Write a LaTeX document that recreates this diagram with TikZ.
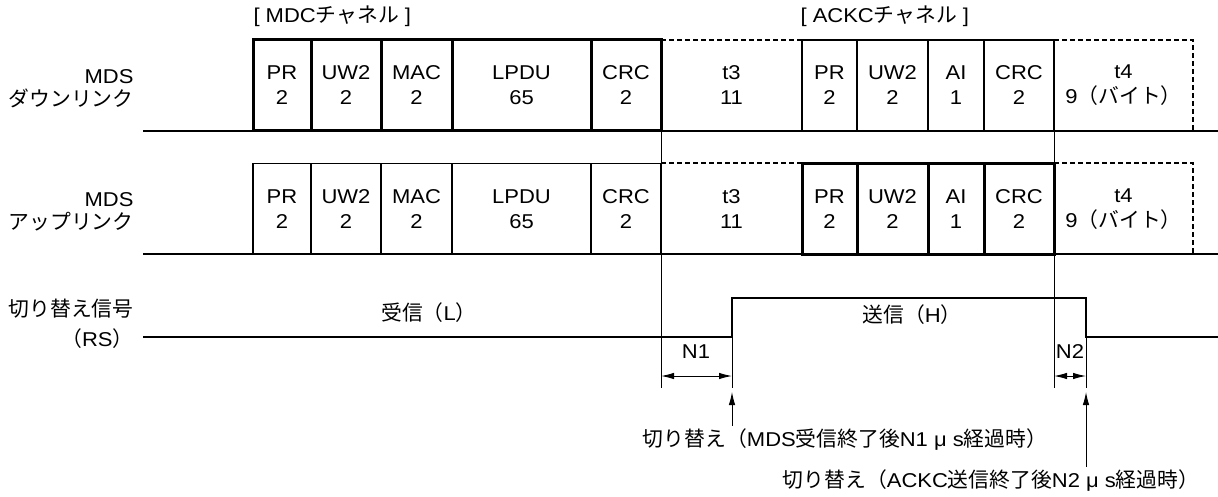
\documentclass[tikz,border=0pt]{standalone}
\usepackage{fontspec}
\setmainfont{Liberation Sans}[FakeStretch=1.1]
\newfontfamily\jp[Scale=1.04]{Noto Sans CJK JP}
\usetikzlibrary{arrows.meta}

\begin{document}
\begin{tikzpicture}[x=1pt, y=-1pt, font=\fontsize{20}{25}\selectfont,
      >={Latex[length=13pt,width=6.5pt]},
      field/.style={draw, line width=1.3pt, minimum height=91pt, inner sep=0pt, outer sep=0pt, align=center},
      heavy/.style={field, line width=3pt},
      slot/.style={minimum height=91pt, inner sep=0pt, outer sep=0pt, align=center},
      slotline/.style={line width=2pt, dash pattern=on 5pt off 3pt},
      tag/.style={anchor=east, align=right, font=\fontsize{20}{23}\selectfont},
      base/.style={line width=1.5pt},
      wave/.style={line width=1.7pt},
      guide/.style={line width=0.9pt},
      dim/.style={<->, line width=1pt}]
    \useasboundingbox (0,0) rectangle (1218,497);
    % channel headings
    \node[anchor=west] (mdc) at (250,16) {[ MDC{\jp チャネル} ]};
    \node[anchor=west] (ackc) at (797,16) {[ ACKC{\jp チャネル} ]};
    % row labels
    \node[tag] (down) at (137,89) {MDS\\{\jp ダウンリンク}};
    \node[tag] (up) at (137,212) {MDS\\{\jp アップリンク}};
    \node[tag] (rs) at (137,324) {{\jp 切り替え信号}\\[7pt]{\jp （}RS{\jp ）}};
    % base lines
    \coordinate (dlA) at (143,131); \coordinate (dlB) at (1218,131);
    \coordinate (ulA) at (143,254); \coordinate (ulB) at (1218,254);
    \draw[base] (dlA) -- (dlB);
    \draw[base] (ulA) -- (ulB);
    % downlink frame
    \node[field, minimum width=55pt] (ackprD) at (829.5,85.5) {PR\\2};
    \node[field, minimum width=71pt] (ackuwD) at (892.5,85.5) {UW2\\2};
    \node[field, minimum width=56pt] (aiD) at (956,85.5) {AI\\1};
    \node[field, minimum width=70pt] (ackcrcD) at (1019,85.5) {CRC\\2};
    \node[heavy, minimum width=58pt] (prD) at (282,85.5) {PR\\2};
    \node[heavy, minimum width=70pt] (uwD) at (346,85.5) {UW2\\2};
    \node[heavy, minimum width=71pt] (macD) at (416.5,85.5) {MAC\\2};
    \node[heavy, minimum width=139pt] (lpduD) at (521.5,85.5) {LPDU\\65};
    \node[heavy, minimum width=70pt] (crcD) at (626,85.5) {CRC\\2};
    \node[slot, minimum width=141pt] (t3D) at (731.5,85.5) {t3\\11};
    \node[slot, minimum width=139pt] (t4D) at (1123.5,85.5) {t4\\9{\jp （バイト）}};
    \draw[slotline] (t3D.north west) -- (t3D.north east);
    \draw[slotline] (t4D.north west) -- (t4D.north east) -- (t4D.south east);
    % uplink frame
    \node[field, minimum width=58pt] (prU) at (282,209) {PR\\2};
    \node[field, minimum width=70pt] (uwU) at (346,209) {UW2\\2};
    \node[field, minimum width=71pt] (macU) at (416.5,209) {MAC\\2};
    \node[field, minimum width=139pt] (lpduU) at (521.5,209) {LPDU\\65};
    \node[field, minimum width=70pt] (crcU) at (626,209) {CRC\\2};
    \node[heavy, minimum width=55pt] (ackprU) at (829.5,209) {PR\\2};
    \node[heavy, minimum width=71pt] (ackuwU) at (892.5,209) {UW2\\2};
    \node[heavy, minimum width=56pt] (aiU) at (956,209) {AI\\1};
    \node[heavy, minimum width=70pt] (ackcrcU) at (1019,209) {CRC\\2};
    \node[slot, minimum width=141pt] (t3U) at (731.5,209) {t3\\11};
    \node[slot, minimum width=139pt] (t4U) at (1123.5,209) {t4\\9{\jp （バイト）}};
    \draw[slotline] (t3U.north west) -- (t3U.north east);
    \draw[slotline] (t4U.north west) -- (t4U.north east) -- (t4U.south east);
    % guides from frame ends
    \coordinate (g1) at (661,388); \coordinate (g2) at (1054,388);
    \draw[guide] (crcD.south east) -- (g1);
    \draw[guide] (ackcrcD.south east) -- (g2);
    % switching signal
    \coordinate (rs0) at (143,337); \coordinate (rise) at (732,337);
    \coordinate (hi1) at (732,298); \coordinate (hi2) at (1086,298);
    \coordinate (fall) at (1086,337); \coordinate (rs1) at (1218,337);
    \draw[wave] (rs0) -- (rise) -- (hi1) -- (hi2) -- (fall) -- (rs1);
    \node (rx) at (429,313) {{\jp 受信（}L{\jp ）}};
    \node (tx) at (912,315) {{\jp 送信（}H{\jp ）}};
    \coordinate (g3) at (732,388); \coordinate (g4) at (1086,388);
    \draw[guide] (rise) -- (g3);
    \draw[guide] (fall) -- (g4);
    % delays
    \coordinate (n1a) at (661,376); \coordinate (n1b) at (732,376);
    \coordinate (n2a) at (1054,376); \coordinate (n2b) at (1086,376);
    \draw[dim] (n1a) -- (n1b);
    \draw[dim] (n2a) -- (n2b);
    \node (nA) at (696,352) {N1};
    \node (nB) at (1070,352) {N2};
    % switching notes
    \node (swA) at (845,440) {{\jp 切り替え（}MDS{\jp 受信終了後}N1 μ s{\jp 経過時）}};
    \node (swB) at (991,481) {{\jp 切り替え（}ACKC{\jp 送信終了後}N2 μ s{\jp 経過時）}};
    \draw[->, guide, shorten >=4pt] (swA.north -| g3) -- (g3);
    \draw[->, guide, shorten >=4pt] (swB.north -| g4) -- (g4);
  \end{tikzpicture}
\end{document}
